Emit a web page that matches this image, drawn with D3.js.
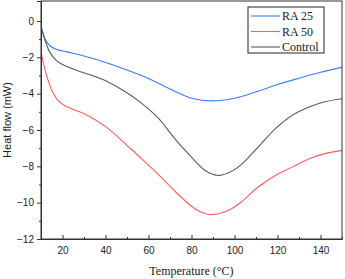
<!DOCTYPE html>
<html>
<head>
<meta charset="utf-8">
<script src="https://cdn.jsdelivr.net/npm/d3@7"></script>
<style>
  body { margin: 0; background: #fff; }
  svg { display: block; }
</style>
</head>
<body>
<script>
// temperature (°C) / heat flow (mW) points
var tempRA25 = [10, 12, 14, 17, 22, 30, 40, 50, 60, 70, 80, 90, 100, 110, 120, 130, 140, 150];
var flowRA25 = [-0.3, -1.0, -1.35, -1.55, -1.7, -1.93, -2.28, -2.7, -3.17, -3.75, -4.25, -4.4, -4.25, -3.9, -3.5, -3.15, -2.82, -2.55];

var tempRA50 = [10, 12, 14, 16, 18, 21, 25, 30, 35, 41, 50, 57, 65, 72, 80, 84, 88, 93, 98, 103, 111, 119, 127, 135, 142, 150];
var flowRA50 = [-1.7, -2.75, -3.5, -4.05, -4.38, -4.65, -4.87, -5.1, -5.42, -5.9, -6.85, -7.6, -8.5, -9.33, -10.2, -10.5, -10.65, -10.6, -10.38, -9.98, -9.14, -8.5, -8.03, -7.57, -7.3, -7.12];

var tempControl = [10, 12, 14, 17, 20, 28, 35, 41, 50, 57, 65, 72, 80, 86, 89.5, 93, 99, 103, 107, 111, 119, 127, 135, 142, 150];
var flowControl = [-0.35, -1.1, -1.7, -2.15, -2.4, -2.78, -3.05, -3.34, -3.95, -4.55, -5.4, -6.45, -7.5, -8.2, -8.42, -8.5, -8.25, -7.92, -7.45, -6.95, -5.92, -5.18, -4.72, -4.45, -4.28];

var seriesNames = ["RA 25", "RA 50", "Control"];
var seriesColors = ["#3d7fef", "#ff5e5e", "#5a5a5a"];

var xTicks = [20, 40, 60, 80, 100, 120, 140];
var yTicks = [0, -2, -4, -6, -8, -10, -12];

var width = 345, height = 279;
var margin = {top: 1, right: 3, bottom: 40, left: 41};

var x = d3.scaleLinear().domain([10, 150]).range([margin.left, width - margin.right]);
var y = d3.scaleLinear().domain([-12, 1.1]).range([height - margin.bottom, margin.top]);

var svg = d3.select(document.body)
  .append("svg")
    .attr("width", width)
    .attr("height", height);

var series = [
  {name: seriesNames[0], color: seriesColors[0], t: tempRA25, v: flowRA25},
  {name: seriesNames[1], color: seriesColors[1], t: tempRA50, v: flowRA50},
  {name: seriesNames[2], color: seriesColors[2], t: tempControl, v: flowControl}
];

var line = d3.line()
    .curve(d3.curveCatmullRom.alpha(0.5))
    .x(d => x(d[0]))
    .y(d => y(d[1]));

var plot = svg.append("g");
plot.append("clipPath").attr("id", "clip")
  .append("rect")
    .attr("x", margin.left).attr("y", margin.top)
    .attr("width", width - margin.left - margin.right)
    .attr("height", height - margin.top - margin.bottom);

series.forEach(s => {
  plot.append("path")
    .datum(s.t.map((t, i) => [t, s.v[i]]))
    .attr("clip-path", "url(#clip)")
    .attr("fill", "none")
    .attr("stroke", s.color)
    .attr("stroke-width", 1.1)
    .attr("d", line);
});

// frame
svg.append("rect")
  .attr("x", margin.left).attr("y", margin.top)
  .attr("width", width - margin.left - margin.right)
  .attr("height", height - margin.top - margin.bottom)
  .attr("fill", "none")
  .attr("stroke", "#333")
  .attr("stroke-width", 1);

// x axis, ticks pointing inward
svg.append("g")
  .attr("transform", `translate(0,${height - margin.bottom})`)
  .call(d3.axisBottom(x).tickValues(xTicks).tickSizeInner(-4).tickSizeOuter(0).tickPadding(8));
svg.append("g")
  .attr("transform", `translate(0,${height - margin.bottom})`)
  .call(d3.axisBottom(x).tickValues(d3.range(10, 151, 20)).tickSizeInner(-2).tickSizeOuter(0).tickFormat(""));

// y axis, ticks pointing outward
svg.append("g")
  .attr("transform", `translate(${margin.left},0)`)
  .call(d3.axisLeft(y).tickValues(yTicks).tickSize(4).tickPadding(3)
    .tickFormat(d => d < 0 ? "\u2212" + Math.abs(d) : d));
svg.append("g")
  .attr("transform", `translate(${margin.left},0)`)
  .call(d3.axisLeft(y).tickValues(d3.range(-11, 1, 2)).tickSize(2).tickFormat(""));

svg.selectAll(".domain").attr("stroke", "#333");
svg.selectAll(".tick line").attr("stroke", "#333");
svg.selectAll(".tick text")
  .attr("font-family", "Liberation Sans, Arial, sans-serif")
  .attr("font-size", 10)
  .attr("fill", "#222");

// axis titles
svg.append("text")
  .attr("x", (margin.left + width - margin.right) / 2)
  .attr("y", 275)
  .attr("text-anchor", "middle")
  .attr("font-family", "Liberation Serif, Times New Roman, serif")
  .attr("font-size", 12)
  .attr("fill", "#222")
  .text("Temperature (\u00b0C)");

svg.append("text")
  .attr("transform", `translate(11,${(margin.top + height - margin.bottom) / 2}) rotate(-90)`)
  .attr("text-anchor", "middle")
  .attr("font-family", "Liberation Sans, Arial, sans-serif")
  .attr("font-size", 11)
  .attr("fill", "#222")
  .text("Heat flow (mW)");

// legend
var legend = svg.append("g");
legend.append("rect")
  .attr("x", 248).attr("y", 7)
  .attr("width", 76).attr("height", 46)
  .attr("fill", "#fff")
  .attr("stroke", "#222")
  .attr("stroke-width", 1);

series.forEach((s, i) => {
  var ly = 16 + i * 15.5;
  legend.append("line")
    .attr("x1", 251).attr("x2", 280)
    .attr("y1", ly).attr("y2", ly)
    .attr("stroke", s.color)
    .attr("stroke-width", 1.1);
  legend.append("text")
    .attr("x", 282).attr("y", ly + 4)
    .attr("font-family", "Liberation Serif, Times New Roman, serif")
    .attr("font-size", 12)
    .attr("fill", "#222")
    .text(s.name);
});
</script>
</body>
</html>
